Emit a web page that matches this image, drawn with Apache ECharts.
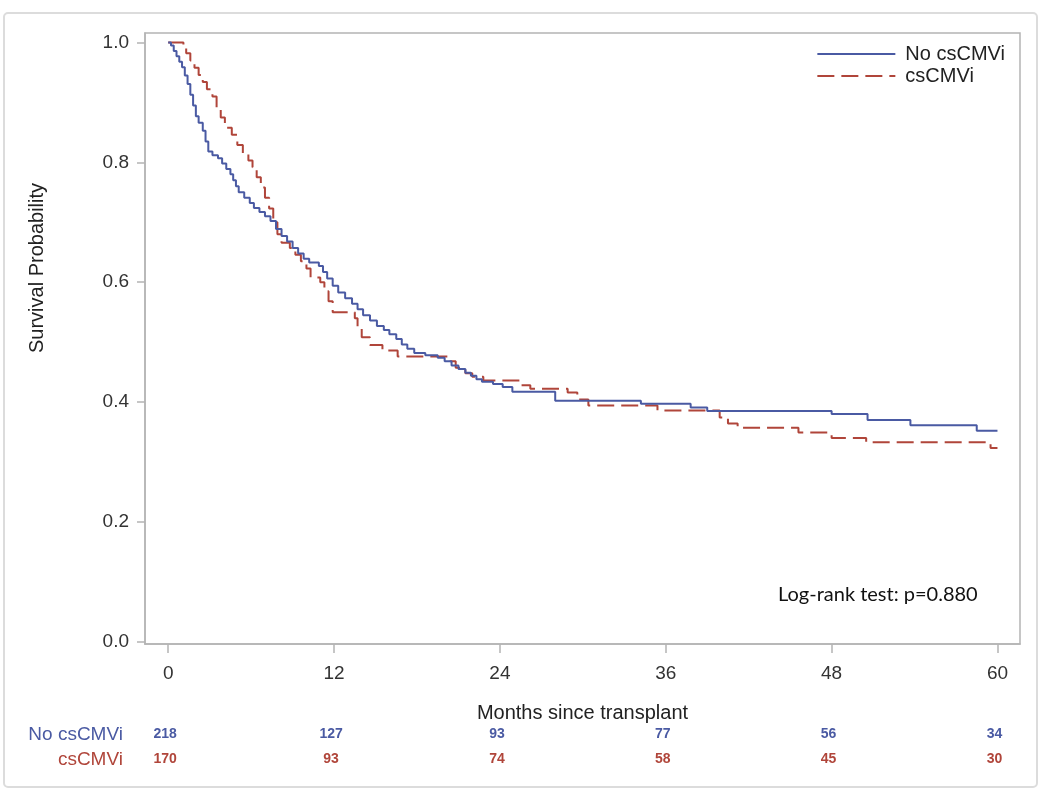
<!DOCTYPE html>
<html>
<head>
<meta charset="utf-8">
<script src="https://cdn.jsdelivr.net/npm/echarts@6/dist/echarts.min.js"></script>
<style>
html,body{margin:0;padding:0;background:#fff;}
#chart{width:1050px;height:792px;}
</style>
</head>
<body>
<div id="chart"></div>
<script>
// ---- data ----
var groupNames = ['No csCMVi', 'csCMVi'];
var monthTicks = [0, 12, 24, 36, 48, 60];
var survTicks = [0, 0.2, 0.4, 0.6, 0.8, 1.0];

var noTimes = [0,0.2,0.4,0.6,0.8,1.0,1.2,1.4,1.6,1.8,2.0,2.2,2.5,2.7,2.9,3.2,3.6,3.9,4.2,4.5,4.7,4.9,5.1,5.5,5.9,6.2,6.6,7.0,7.4,7.8,8.2,8.6,9.0,9.4,9.8,10.2,10.9,11.2,11.5,11.9,12.3,12.8,13.3,13.7,14.1,14.6,15.1,15.6,16.0,16.5,16.9,17.3,17.8,18.6,19.5,20.0,20.5,21.0,21.5,21.9,22.3,22.7,23.5,24.2,24.9,28.0,34.2,37.8,39.0,48.0,50.6,53.7,58.5,60];
var noSurv  = [1.0,0.995,0.986,0.977,0.968,0.959,0.945,0.931,0.913,0.895,0.877,0.866,0.853,0.835,0.818,0.812,0.807,0.798,0.789,0.780,0.770,0.760,0.750,0.741,0.732,0.724,0.717,0.710,0.702,0.689,0.677,0.668,0.657,0.648,0.639,0.633,0.627,0.617,0.606,0.594,0.583,0.573,0.564,0.555,0.545,0.536,0.527,0.520,0.513,0.505,0.496,0.489,0.482,0.478,0.474,0.468,0.461,0.455,0.449,0.444,0.438,0.434,0.430,0.425,0.417,0.402,0.397,0.391,0.385,0.380,0.370,0.361,0.352,0.352];

var csTimes = [0,1.1,1.3,1.6,1.9,2.2,2.5,2.8,3.2,3.5,3.8,4.1,4.6,5.0,5.4,5.8,6.1,6.4,6.7,7.0,7.3,7.6,7.9,8.2,8.8,9.2,9.6,10.0,10.3,11.0,11.3,11.6,11.9,13.5,13.7,14.0,14.6,15.5,16.6,20.4,20.8,21.5,22.0,22.8,25.5,26.2,28.9,29.6,30.4,35.4,39.9,40.5,41.2,45.6,48.0,50.5,59.5,60];
var csSurv  = [1.0,0.994,0.982,0.970,0.958,0.946,0.934,0.922,0.910,0.892,0.875,0.858,0.846,0.829,0.815,0.803,0.792,0.775,0.758,0.741,0.723,0.700,0.680,0.666,0.657,0.646,0.635,0.623,0.608,0.600,0.585,0.568,0.550,0.540,0.522,0.508,0.495,0.486,0.476,0.468,0.457,0.448,0.442,0.436,0.428,0.422,0.416,0.404,0.394,0.386,0.374,0.364,0.357,0.349,0.340,0.333,0.323,0.323];

var riskNo = [218, 127, 93, 77, 56, 34];
var riskCs = [170, 93, 74, 58, 45, 30];

var pText = 'Log-rank test: p=0.880';

// ---- build ----
var blue = '#4a5aa3';
var red = '#b0453a';
function pairs(t, s) { return t.map(function (v, i) { return [v, s[i]]; }); }
function riskData(arr, name) { return arr.map(function (v, i) { return { value: [monthTicks[i], name], n: v }; }); }

var xMin = -1.68, xMax = 61.63;
var font = 'Liberation Sans';
var frame = '#b4b4b4';

var chart = echarts.init(document.getElementById('chart'));
chart.setOption({
  animation: false,
  backgroundColor: '#fff',
  textStyle: { fontFamily: font },
  grid: [
    { left: 145, right: 30, top: 33, bottom: 148, show: true, borderColor: frame, borderWidth: 1.5, containLabel: false },
    { left: 145, right: 30, top: 722, height: 50, show: false }
  ],
  xAxis: [
    {
      type: 'value', gridIndex: 0, min: xMin, max: xMax,
      name: 'Months since transplant', nameLocation: 'middle', nameGap: 59,
      nameTextStyle: { fontSize: 20, color: '#222', fontFamily: font },
      axisLine: { show: true, onZero: false, lineStyle: { color: frame, width: 1.5 } },
      axisTick: { show: true, length: 9, lineStyle: { color: frame, width: 1.5 }, customValues: monthTicks },
      axisLabel: { fontSize: 19, color: '#333', margin: 20, customValues: monthTicks, fontFamily: font },
      splitLine: { show: false }
    },
    {
      type: 'value', gridIndex: 1, min: xMin, max: xMax, show: false
    }
  ],
  yAxis: [
    {
      type: 'value', gridIndex: 0, min: -0.004, max: 1.016,
      axisLine: { show: true, onZero: false, lineStyle: { color: frame, width: 1.5 } },
      axisTick: { show: true, length: 8, lineStyle: { color: frame, width: 1.5 }, customValues: survTicks },
      axisLabel: { fontSize: 19, color: '#333', margin: 16, customValues: survTicks, fontFamily: font,
        formatter: function (v) { return Number(v).toFixed(1); } },
      splitLine: { show: false }
    },
    {
      type: 'category', gridIndex: 1, data: groupNames, inverse: true,
      axisLine: { show: false }, axisTick: { show: false },
      axisLabel: { fontSize: 19, margin: 22, fontFamily: font,
        color: function (v, i) { return v === groupNames[0] ? blue : red; } }
    }
  ],
  legend: {
    orient: 'vertical', right: 40, top: 39,
    itemWidth: 78, itemHeight: 14, itemGap: 2,
    itemStyle: { color: 'rgba(0,0,0,0)', borderWidth: 0, opacity: 0 },
    textStyle: { fontSize: 20, color: '#222', lineHeight: 20, padding: [0, 0, 0, 5], fontFamily: font },
    data: groupNames
  },
  graphic: [
    { type: 'rect', shape: { x: 4, y: 13, width: 1033, height: 774, r: 4 }, style: { fill: 'none', stroke: '#dcdcdc', lineWidth: 2 }, silent: true, z: -1 },
    { type: 'text', x: 37, y: 268, rotation: Math.PI / 2,
      style: { text: 'Survival Probability', font: '20px "Liberation Sans"', fill: '#222', textAlign: 'center', textVerticalAlign: 'middle' } },
    { type: 'text', x: 778, y: 595,
      style: { text: pText, font: '20px Lato', fill: '#111', textAlign: 'left', textVerticalAlign: 'middle' } }
  ],
  series: [
    {
      name: groupNames[0], type: 'line', xAxisIndex: 0, yAxisIndex: 0,
      step: 'end', symbol: 'none', showSymbol: false,
      lineStyle: { color: blue, width: 2 }, itemStyle: { color: blue },
      data: pairs(noTimes, noSurv), z: 3
    },
    {
      name: groupNames[1], type: 'line', xAxisIndex: 0, yAxisIndex: 0,
      step: 'end', symbol: 'none', showSymbol: false,
      lineStyle: { color: red, width: 2, type: [17, 7] }, itemStyle: { color: red },
      data: pairs(csTimes, csSurv), z: 2
    },
    {
      type: 'scatter', xAxisIndex: 1, yAxisIndex: 1, symbolSize: 0, silent: true,
      itemStyle: { opacity: 1, color: blue },
      data: riskData(riskNo, groupNames[0]),
      label: { show: true, position: 'inside', offset: [-3, 0], fontSize: 14, fontWeight: 'bold', color: blue, fontFamily: font,
        formatter: function (p) { return p.data.n; } }
    },
    {
      type: 'scatter', xAxisIndex: 1, yAxisIndex: 1, symbolSize: 0, silent: true,
      itemStyle: { opacity: 1, color: red },
      data: riskData(riskCs, groupNames[1]),
      label: { show: true, position: 'inside', offset: [-3, 0], fontSize: 14, fontWeight: 'bold', color: red, fontFamily: font,
        formatter: function (p) { return p.data.n; } }
    }
  ]
});
</script>
</body>
</html>
